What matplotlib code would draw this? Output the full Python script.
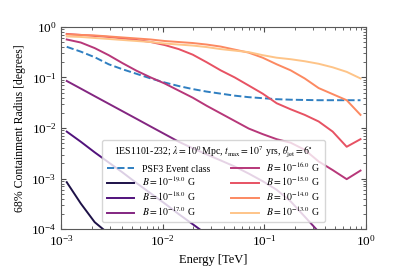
import numpy as np
import matplotlib
matplotlib.use("Agg")
import matplotlib.pyplot as plt

plt.rcParams['font.family'] = ['Liberation Serif', 'DejaVu Serif']
plt.rcParams['mathtext.fontset'] = 'stix'

# log10 of energy [TeV] for each bin
log_energy = [-2.944, -2.806, -2.669, -2.531, -2.393, -2.255, -2.118, -1.980,
              -1.842, -1.704, -1.567, -1.429, -1.291, -1.153, -1.016, -0.878,
              -0.740, -0.602, -0.465, -0.327, -0.189, -0.053]

# log10 of the 68% containment radius [deg]
psf3 = [-0.395, -0.49, -0.60, -0.74, -0.84, -0.93, -1.02, -1.10, -1.17, -1.23,
        -1.28, -1.32, -1.36, -1.39, -1.41, -1.43, -1.44, -1.445, -1.45, -1.45,
        -1.45, -1.45]
b_m19 = [-3.07, -3.49, -3.86, -4.09, -4.3, np.nan, np.nan, np.nan, np.nan,
         np.nan, np.nan, np.nan, np.nan, np.nan, np.nan, np.nan, np.nan,
         np.nan, np.nan, np.nan, np.nan, np.nan]
b_m18 = [-2.07, -2.27, -2.48, -2.68, -2.88, -3.09, -3.29, -3.49, -3.70, -3.90,
         -4.10, np.nan, np.nan, np.nan, np.nan, np.nan, np.nan, np.nan,
         np.nan, np.nan, np.nan, np.nan]
b_m17 = [-1.07, -1.22, -1.37, -1.52, -1.67, -1.82, -1.97, -2.12, -2.27, -2.40,
         -2.52, -2.64, -2.76, -2.90, -3.05, -3.22, -3.45, -3.75, -4.05,
         np.nan, np.nan, np.nan]
b_m16 = [-0.25, -0.31, -0.42, -0.56, -0.72, -0.87, -1.00, -1.12, -1.26, -1.40,
         -1.56, -1.71, -1.86, -2.01, -2.12, -2.22, -2.29, -2.43, -2.66, -2.83,
         -3.01, -2.84]
b_m15 = [-0.14, -0.16, -0.18, -0.20, -0.23, -0.26, -0.30, -0.36, -0.44, -0.55,
         -0.70, -0.86, -1.00, -1.16, -1.32, -1.51, -1.63, -1.74, -1.87, -2.07,
         -2.37, -2.22]
b_m14 = [-0.15, -0.16, -0.17, -0.19, -0.21, -0.23, -0.25, -0.28, -0.30, -0.32,
         -0.35, -0.39, -0.45, -0.51, -0.61, -0.74, -0.86, -1.02, -1.21, -1.33,
         -1.45, -1.74]
b_m13 = [-0.19, -0.20, -0.22, -0.24, -0.26, -0.28, -0.30, -0.33, -0.35, -0.37,
         -0.40, -0.44, -0.47, -0.50, -0.56, -0.61, -0.64, -0.68, -0.73, -0.80,
         -0.89, -1.02]

field_exps = [-19.0, -18.0, -17.0, -16.0, -15.0, -14.0, -13.0]
field_curves = [b_m19, b_m18, b_m17, b_m16, b_m15, b_m14, b_m13]

energy = 10 ** np.array(log_energy)
colors = plt.cm.magma(np.linspace(0, 1, 9)[1:-1])

fig = plt.figure(figsize=(4.07, 2.71), dpi=100)
ax = fig.add_axes([0.150, 0.154, 0.749, 0.747])

ax.plot(energy, 10 ** np.array(psf3), color='#2f7fc1', linestyle='--',
        lw=1.4, label='PSF3 Event class')
for exp, curve, c in zip(field_exps, field_curves, colors):
    ax.plot(energy, 10 ** np.array(curve), color=c, lw=1.4,
            label=r'$B = 10^{%.1f}$ G' % exp)

ax.set_xscale('log')
ax.set_yscale('log')
ax.set_xlim(1e-3, 1)
ax.set_ylim(1e-4, 1)
ax.set_xlabel('Energy [TeV]', fontsize=9)
ax.set_ylabel('68% Containment Radius [degrees]', fontsize=8.5)
ax.tick_params(which='both', direction='in', top=True, right=True,
               labelsize=9.5, color='0.3')
ax.tick_params(which='major', length=3.5)
ax.tick_params(which='minor', length=2)
for s in ax.spines.values():
    s.set_color('0.35')

leg = ax.legend(ncol=2, loc='lower center', bbox_to_anchor=(0.5, 0.01),
                fontsize=7, title_fontsize=7, handlelength=2.8,
                columnspacing=2.2, labelspacing=0.12, borderpad=0.45,
                title=r'1ES1101-232; $\lambda = 10^0\,$Mpc, $t_{\rm max} = 10^7$ yrs, $\theta_{\rm jet} = 6^{\circ}$')

fig.savefig('out.png', dpi=100)
